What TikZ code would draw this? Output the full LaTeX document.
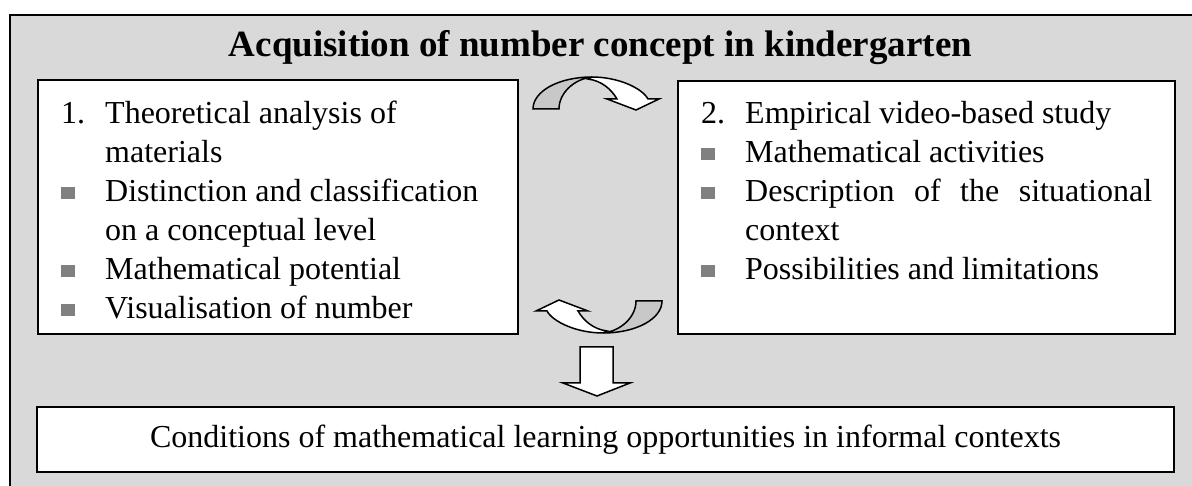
\documentclass[tikz,border=0pt]{standalone}
\usepackage{fontspec}
\setmainfont{Liberation Serif}
\usetikzlibrary{positioning}
\definecolor{panelgray}{RGB}{217,217,217}
\definecolor{bandgray}{RGB}{200,200,200}
\definecolor{bulletgray}{RGB}{128,128,128}
\hyphenpenalty=10000
\exhyphenpenalty=10000
\newcommand{\sqbullet}{\textcolor{bulletgray}{\rule[2pt]{14pt}{12pt}}}
\newcommand{\listentry}[2]{\par\noindent\hangindent=44pt\hangafter=1\makebox[44pt][l]{#1}#2}
\newcommand{\bendarrow}{%
  \filldraw[fill=bandgray] (533,109) .. controls (533,91) and (559,77) .. (592,77)
     .. controls (574,79) and (559,93) .. (559,109) -- cycle;
  \filldraw[fill=white] (592,77) .. controls (618,77) and (642,88) .. (648,99)
     -- (659,99) -- (636,110) -- (607,99) -- (617,99)
     .. controls (611,89) and (602,81) .. (588,79) -- cycle;}

\begin{document}
\begin{tikzpicture}[x=1pt, y=-1pt,
   panel/.style={draw, line width=1.8pt, fill=white, inner sep=0pt},
   listbox/.style={inner sep=0pt, font=\fontsize{32}{39}\selectfont},
   block/.style={draw, line width=1.5pt, line join=miter}]
  \useasboundingbox (0,0) rectangle (1192,486);
  \clip (0,0) rectangle (1192,486);
  \draw[line width=2.5pt, fill=panelgray] (10,15) rectangle (1240,540);
  \node[font=\fontsize{37}{42}\selectfont\bfseries, anchor=base] (title) at (600.5,57)
     {Acquisition of number concept in kindergarten};
  \node[panel, anchor=north west, minimum width=480pt, minimum height=254pt] (theory) at (37,79) {};
  \node[panel, anchor=north west, minimum width=497pt, minimum height=253pt] (empiric) at (677,80) {};
  \node[listbox, align=flush left, text width=434pt, below right=5pt and 24pt of theory.north west] (theorylist)
     {\listentry{1.}{Theoretical analysis of materials}
      \listentry{\sqbullet}{Distinction and classification on a conceptual level}
      \listentry{\sqbullet}{Mathematical potential}
      \listentry{\sqbullet}{Visualisation of number}};
  \node[listbox, align=justify, text width=451pt, below right=4pt and 24pt of empiric.north west] (empiriclist)
     {\listentry{2.}{Empirical video-based study}
      \listentry{\sqbullet}{Mathematical activities}
      \listentry{\sqbullet}{Description of the situational context}
      \listentry{\sqbullet}{Possibilities and limitations}};
  \node[panel, minimum width=1137pt, minimum height=65pt, font=\fontsize{32}{37}\selectfont] (result)
     at (605.5,439.5) {Conditions of mathematical learning opportunities in informal contexts};
  \filldraw[block, fill=white] (580,347) -- (613,347) -- (613,383) -- (630,383) -- (597,396)
     -- (563,383) -- (580,383) -- cycle;
  \begin{scope}[line width=1.5pt]
    \bendarrow
  \end{scope}
  \begin{scope}[line width=1.5pt, rotate around={180:(597.5,205)}]
    \bendarrow
  \end{scope}
\end{tikzpicture}
\end{document}
